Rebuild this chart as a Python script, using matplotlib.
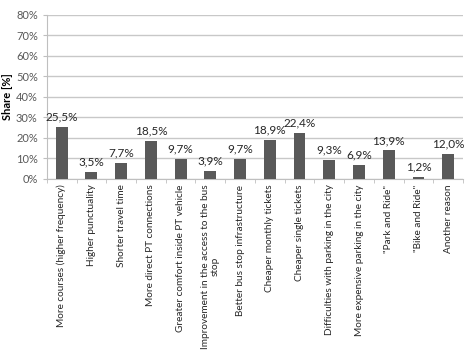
import matplotlib.pyplot as plt
import numpy as np
from matplotlib.ticker import FixedLocator, FuncFormatter

plt.rcParams['font.family'] = ['Lato', 'DejaVu Sans']

categories = [
    'More courses (higher frequency)',
    'Higher punctuality',
    'Shorter travel time',
    'More direct PT connections',
    'Greater comfort inside PT vehicle',
    'Improvement in the access to the bus\nstop',
    'Better bus stop infrastructure',
    'Cheaper monthly tickets',
    'Cheaper single tickets',
    'Difficulties with parking in the city',
    'More expensive parking in the city',
    '"Park and Ride"',
    '"Bike and Ride"',
    'Another reason',
]
share = [25.5, 3.5, 7.7, 18.5, 9.7, 3.9, 9.7, 18.9, 22.4, 9.3, 6.9, 13.9, 1.2, 12.0]

fig = plt.figure(figsize=(4.73, 3.53), dpi=100)
ax = fig.add_axes([0.099, 0.493, 0.88, 0.465])

x = np.arange(len(categories))
ax.bar(x, share, width=0.4, color='#595959', zorder=3)

for xi, v in zip(x, share):
    ax.text(xi, v + 2.2, f'{v:.1f}%'.replace('.', ','), ha='center', va='bottom',
            fontsize=8.5, color='#262626')

ax.set_xlim(-0.5, len(categories) - 0.5)
ax.set_ylim(0, 80)
ax.set_yticks(np.arange(0, 81, 10))
ax.yaxis.set_major_formatter(FuncFormatter(lambda v, p: f'{v:.0f}%'))
ax.grid(axis='y', color='#c8c8c8', linewidth=1, zorder=0)

ax.set_xticks(x)
ax.set_xticklabels(categories, rotation=90, fontsize=7.2, color='#262626',
                   ha='center', multialignment='center')
ax.tick_params(axis='x', length=0, pad=4)
ax.xaxis.set_minor_locator(FixedLocator(np.arange(-0.5, len(categories), 1)))
ax.tick_params(axis='x', which='minor', length=3, color='#bfbfbf')
ax.tick_params(axis='y', length=3, color='#bfbfbf', labelsize=8, labelcolor='#595959')

for s in ['top', 'right']:
    ax.spines[s].set_visible(False)
ax.spines['left'].set_color('#bfbfbf')
ax.spines['bottom'].set_color('#bfbfbf')

ax.set_ylabel('Share [%]', fontsize=8, fontweight='bold', labelpad=2)

fig.savefig('out.png', dpi=100)
